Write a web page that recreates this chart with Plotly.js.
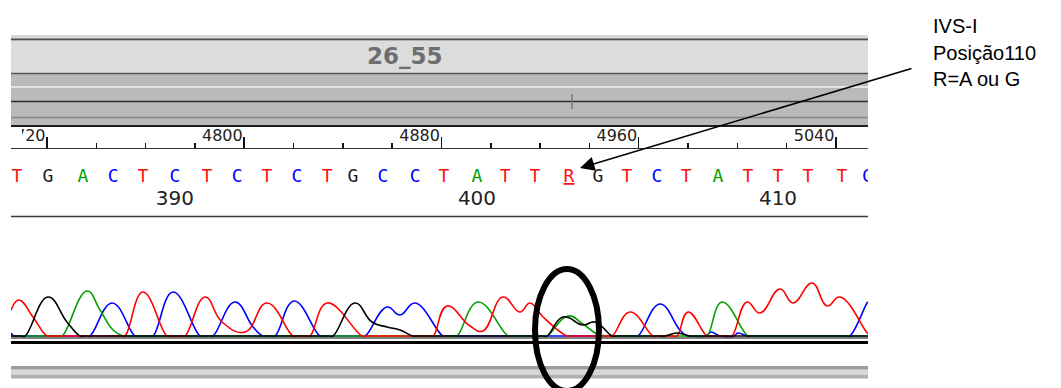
<!DOCTYPE html>
<html><head><meta charset="utf-8">
<script src="https://cdn.plot.ly/plotly-3.0.1.min.js"></script>
<style>html,body{margin:0;padding:0;background:#fff}#chart{width:1061px;height:388px}</style>
</head><body><div id="chart"></div>
<script>
// ---------------- DATA ----------------
// base calls and their scan positions
const baseCalls = ['T','G','A','C','T','C','T','C','T','C','T','G','C','C','T','A','T','T','R','G','T','C','T','A','T','T','T','T','C'];
const baseScan  = [4707.8,4720.4,4734.6,4746.8,4758.9,4771.9,4784.9,4797.1,4809.2,4821.4,4833.6,4844.1,4856.3,4869.3,4881.0,4894.4,4905.8,4917.9,4931.7,4943.5,4955.2,4967.4,4979.2,4992.1,5004.3,5016.5,5028.6,5042.4,5052.8];
const firstBaseNumber = 385;
const baseNumbers = [390, 400, 410];

// chromatogram channels (scan position, signal)
const redScan   = [4705.4,4708.6,4714.3,4720.0,4721.6,4750.0,4751.6,4758.9,4768.7,4770.3,4774.4,4776.0,4784.1,4791.0,4800.3,4809.2,4819.8,4821.4,4825.1,4826.7,4833.6,4847.8,4849.4,4875.0,4876.6,4882.2,4891.6,4896.8,4904.9,4911.8,4915.9,4921.2,4930.9,4932.5,4947.6,4949.2,4956.5,4965.8,4967.4,4973.9,4975.5,4980.0,4987.7,4989.3,4996.2,4997.8,5003.9,5009.2,5017.3,5022.6,5030.3,5036.4,5041.6,5051.8,5053.0];
const redSignal = [260,360,190,0,0,0,0,440,0,0,0,0,390,140,40,330,0,0,0,0,330,0,0,0,0,300,100,50,390,240,330,190,0,0,0,0,240,0,0,0,0,240,0,0,0,0,340,230,470,330,530,300,390,60,20];

const blackScan   = [4705.4,4709.5,4711.1,4720.4,4728.1,4733.4,4735.0,4834.4,4836.0,4844.9,4851.8,4857.9,4863.2,4868.4,4870.0,4921.2,4922.8,4929.3,4937.4,4942.3,4949.2,4950.8,4969.0,4970.6,4975.5,4980.8,4982.4,5053.0];
const blackSignal = [0,0,0,390,140,0,0,0,0,330,140,90,60,0,0,0,0,190,110,140,0,0,0,0,30,0,0,0];

const greenScan   = [4705.4,4724.5,4726.1,4736.2,4741.5,4746.8,4750.8,4752.4,4884.7,4886.3,4894.8,4907.0,4908.6,4921.2,4922.8,4931.3,4937.4,4943.1,4947.1,4948.7,4986.1,4987.7,4993.8,5004.3,5005.9,5053.0];
const greenSignal = [0,0,0,450,260,60,0,0,0,0,340,0,0,0,0,200,120,20,0,0,0,0,340,0,0,0];

const blueScan   = [4705.4,4706.6,4708.2,4735.8,4737.4,4746.4,4755.7,4757.3,4761.4,4763.0,4771.1,4782.1,4783.7,4785.7,4787.3,4796.2,4803.6,4807.6,4809.2,4810.9,4812.5,4820.2,4830.7,4832.3,4847.4,4849.0,4857.9,4863.2,4869.3,4880.6,4882.2,4958.1,4959.7,4968.6,4976.7,4979.6,4981.2,4987.3,4989.3,4993.0,4998.6,5000.2,5003.9,5005.5,5044.0,5045.6,5052.6,5053.0];
const blueSignal = [30,0,0,0,0,330,0,0,0,0,440,0,0,0,0,340,90,0,0,0,0,350,0,0,0,0,290,210,330,0,0,0,0,320,60,0,0,0,40,0,0,30,0,0,0,0,330,340];

// ---------------- LAYOUT HELPERS ----------------
const W = 1061, H = 388, L = 11, R = 868;
const fx = px => (px - L) / (R - L);
const fy = py => 1 - py / H;
const rect = (x0, x1, top, bot, fill) => ({type:'rect', xref:'paper', yref:'paper', x0:fx(x0), x1:fx(x1), y0:fy(bot), y1:fy(top), fillcolor:fill, line:{width:0}, layer:'above'});
const hline = (y, color, w) => ({type:'line', xref:'paper', yref:'paper', x0:0, x1:1, y0:fy(y), y1:fy(y), line:{color:color, width:w}, layer:'above'});

const baseColor = {T:'#ff1010', G:'#1a1a1a', A:'#00a000', C:'#0000ff', R:'#ff1010'};

function channel(xs, ys, color) {
  return {type:'scatter', mode:'lines', x:xs, y:ys, xaxis:'x', yaxis:'y',
    line:{color:color, width:1.6, shape:'spline', smoothing:1.3}, hoverinfo:'skip', cliponaxis:true};
}

const traces = [
  channel(blueScan, blueSignal, '#0000ff'),
  channel(greenScan, greenSignal, '#00a000'),
  channel(redScan, redSignal, '#ff0000'),
  channel(blackScan, blackSignal, '#000000'),
  {type:'scatter', mode:'text', x:baseScan, y:baseScan.map(() => 0.575), xaxis:'x', yaxis:'y2',
   text:baseCalls.map(b => b === 'R' ? '<u>R</u>' : b),
   textfont:{family:'DejaVu Sans Mono', size:18, color:baseCalls.map(b => baseColor[b])},
   textposition:'middle center', hoverinfo:'skip', cliponaxis:true},
  {type:'scatter', mode:'text', x:baseNumbers.map(n => baseScan[n - firstBaseNumber]), y:baseNumbers.map(() => 0.239),
   xaxis:'x', yaxis:'y2', text:baseNumbers.map(String),
   textfont:{family:'DejaVu Sans', size:20, color:'#222'}, textposition:'middle center', hoverinfo:'skip', cliponaxis:true}
];

const shapes = [
  rect(11, 868, 35, 125.5, '#bababa'),
  rect(11, 868, 35, 39, '#d8d8d8'),
  hline(39.5, '#505050', 2),
  rect(11, 868, 40.5, 73, '#dcdcdc'),
  hline(73.5, '#555555', 1.5),
  hline(87, '#f2f2f2', 1.5),
  hline(101.5, '#2e2e2e', 1.5),
  hline(117.5, '#888888', 1.5),
  hline(126, '#1e1e1e', 2),
  {type:'line', xref:'paper', yref:'paper', x0:fx(572), x1:fx(572), y0:fy(109), y1:fy(94), line:{color:'#777', width:1.5}, layer:'above'},
  // mask: the first tick label is cut by the panel edge
  {type:'rect', xref:'paper', yref:'paper', x0:fx(-8), x1:fx(22), y0:fy(146), y1:fy(127.5), fillcolor:'#ffffff', line:{width:0}, layer:'above'},
  hline(216.5, '#3a3a3a', 1.5),
  hline(338, '#000000', 1),
  hline(342.5, '#000000', 3),
  rect(11, 868, 366, 378.5, '#b0b0b0'),
  rect(11, 868, 366, 369, '#9c9c9c'),
  rect(11, 868, 369.5, 375, '#d6d6d6'),
  {type:'circle', xref:'paper', yref:'paper', x0:fx(535), x1:fx(599), y0:fy(391), y1:fy(269), line:{color:'#000', width:6}, layer:'above'}
];

const annotations = [
  {xref:'paper', yref:'paper', x:fx(404.5), y:fy(56), text:'26_55', showarrow:false, xanchor:'center', yanchor:'middle',
   font:{family:'DejaVu Sans', size:23, weight:'bold', color:'#6e6e6e'}},
  {xref:'paper', yref:'paper', x:fx(580), y:fy(168), text:'', showarrow:true, ax:333, ay:-100,
   arrowhead:2, arrowsize:1.8, arrowwidth:1.6, arrowcolor:'#000', standoff:0},
  {xref:'paper', yref:'paper', x:fx(931), y:fy(26.5), text:'IVS-I', showarrow:false, xanchor:'left', yanchor:'middle',
   font:{family:'Liberation Sans, Arial', size:20, color:'#000'}},
  {xref:'paper', yref:'paper', x:fx(931), y:fy(53.5), text:'Posição110', showarrow:false, xanchor:'left', yanchor:'middle',
   font:{family:'Liberation Sans, Arial', size:20, color:'#000'}},
  {xref:'paper', yref:'paper', x:fx(931), y:fy(79), text:'R=A ou G', showarrow:false, xanchor:'left', yanchor:'middle',
   font:{family:'Liberation Sans, Arial', size:20, color:'#000'}}
];

const layout = {
  width:W, height:H, margin:{l:L, r:W - R, t:0, b:0, pad:0},
  paper_bgcolor:'#ffffff', plot_bgcolor:'rgba(0,0,0,0)', showlegend:false, hovermode:false,
  xaxis:{range:[4705.4, 5053.0], domain:[0,1], anchor:'y2', side:'top', automargin:false,
    showline:true, linecolor:'#333', linewidth:1.5, showgrid:false, zeroline:false,
    tickmode:'linear', tick0:4720, dtick:80, ticks:'outside', ticklen:11, tickwidth:1.5, tickcolor:'#111',
    ticklabelposition:'outside left', tickformat:'d',
    tickfont:{family:'DejaVu Sans', size:16, color:'#222'},
    minor:{tick0:4720, dtick:20, ticks:'outside', ticklen:5, tickwidth:1.5, tickcolor:'#111', showgrid:false}},
  yaxis:{domain:[fy(337.5), fy(217)], range:[-15, 1190], visible:false, fixedrange:true},
  yaxis2:{domain:[fy(216), fy(149)], range:[0,1], visible:false, fixedrange:true},
  shapes:shapes, annotations:annotations
};

Plotly.newPlot('chart', traces, layout, {displayModeBar:false, staticPlot:true});
</script></body></html>
